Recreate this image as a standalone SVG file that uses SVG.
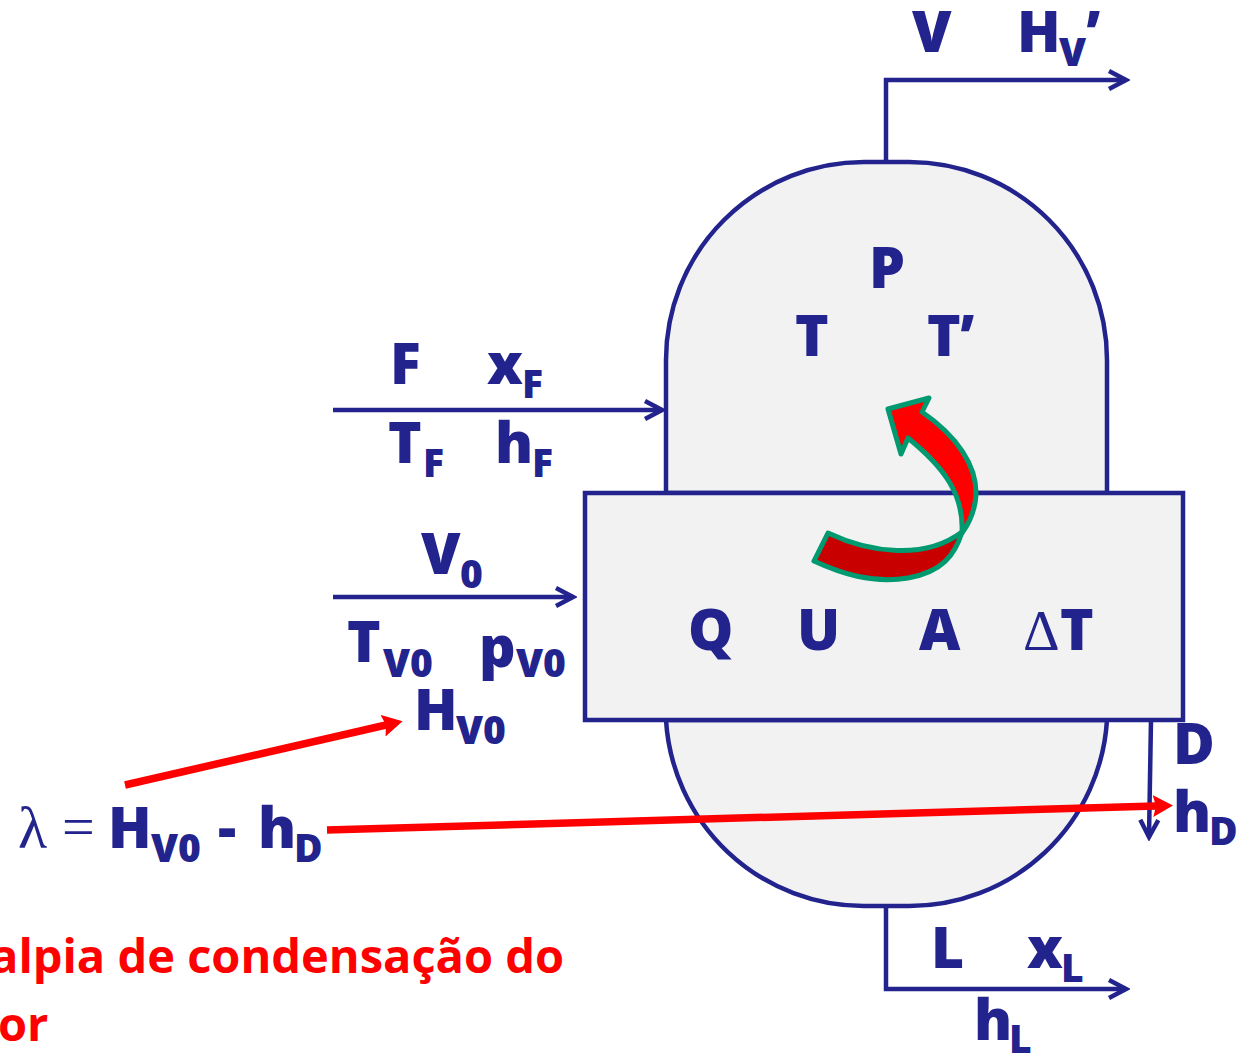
<svg xmlns="http://www.w3.org/2000/svg" width="1237" height="1054" viewBox="0 0 1237 1054">
<style>
.l{fill:none;stroke:#23238e;stroke-width:4.5}
.r{fill:none;stroke:#f00;stroke-width:7.5}
text{font-family:"Open Sans","Liberation Sans",sans-serif;font-weight:800;fill:#23238e}
.m{font-size:57px}
.s{font-size:39px}
.t{font-size:47px;fill:#f00;font-weight:700}
.g{font-family:"Liberation Serif",serif;font-weight:400}
.b{fill:#f2f2f2;stroke:#23238e;stroke-width:4.5}
.a{stroke:#009970;stroke-width:5;stroke-linejoin:round}
</style>
<defs>
<marker id="h" markerUnits="userSpaceOnUse" markerWidth="24" markerHeight="24" refX="20" refY="12" orient="auto"><path d="M3 3L20 12L3 21" fill="none" stroke="#23238e" stroke-width="4.5"/></marker>
<marker id="rh" markerUnits="userSpaceOnUse" markerWidth="24" markerHeight="24" refX="3" refY="11" orient="auto"><path d="M0 0L20 11L0 22L3 11Z" fill="#f00"/></marker>
</defs>
<rect width="1237" height="1054" fill="#fff"/>
<g id="vessel">
<path class="b" d="M666 493V360A198 198 0 0 1 864 162H909A198 198 0 0 1 1107 360V493Z"/>
<path class="b" d="M666 720A198 198 0 0 0 864 906H909A198 198 0 0 0 1107 720Z"/>
</g>
<g id="exchanger"><rect class="b" x="585" y="493" width="598" height="227"/></g>
<g id="connectors">
<path class="l" marker-end="url(#h)" d="M886 162V80H1126"/>
<path class="l" marker-end="url(#h)" d="M333 410H662"/>
<path class="l" marker-end="url(#h)" d="M333 597H573"/>
<path class="l" marker-end="url(#h)" d="M886 906V989H1126"/>
<path class="l" marker-end="url(#h)" d="M1151 720L1149 837"/>
<path class="r" marker-end="url(#rh)" d="M125 785L386 725"/>
<path class="r" marker-end="url(#rh)" d="M327 830L1156 806"/>
</g>
<g id="curved-arrow">
<path class="a" fill="#c80000" d="M828 533C870 553 925 560 962 532C955 555 942 572 908 578C872 584 840 573 814 561Z"/>
<path class="a" fill="#f00" d="M888 409L929 398L922 412C957 436 977 466 976 495C975 510 970 522 962 533C964 495 945 468 908 438L901 454Z"/>
</g>
<g id="labels">
<text class="m" x="912" y="52">V</text><text class="m" x="1017" y="52">H</text><text class="s" x="1059" y="66">V</text><text class="m" x="1086" y="52">’</text>
<text class="m" x="869" y="288">P</text><text class="m" x="795" y="356">T</text><text class="m" x="927" y="356">T</text><text class="m" x="960" y="356">’</text>
<text class="m" x="390" y="384">F</text><text class="m" x="487" y="384">x</text><text class="s" x="522" y="398">F</text>
<text class="m" x="388" y="463">T</text><text class="s" x="423" y="477">F</text><text class="m" x="495" y="463">h</text><text class="s" x="532" y="477">F</text>
<text class="m" x="421" y="574">V</text><text class="s" x="460" y="588">0</text>
<text class="m" x="347" y="662">T</text><text class="s" x="383" y="677">V0</text><text class="m" x="479" y="667">p</text><text class="s" x="516" y="677">V0</text>
<text class="m" x="414" y="730">H</text><text class="s" x="456" y="744">V0</text>
<text class="m" x="688" y="650">Q</text><text class="m" x="797" y="650">U</text><text class="m" x="919" y="650">A</text>
<text class="g" x="1023" y="650" style="font-size:57px">Δ</text><text class="m" x="1060" y="650">T</text>
<text class="m" x="1173" y="764">D</text><text class="m" x="1173" y="832">h</text><text class="s" x="1209" y="845">D</text>
<text class="g" x="18" y="848" style="font-size:60px">λ</text><text class="g" x="62" y="846" style="font-size:58px">=</text>
<text class="m" x="108" y="848">H</text><text class="s" x="151" y="862">V0</text><text class="m" x="218" y="848">-</text><text class="m" x="258" y="848">h</text><text class="s" x="294" y="862">D</text>
<text class="m" x="931" y="968">L</text><text class="m" x="1027" y="968">x</text><text class="s" x="1061" y="982">L</text>
<text class="m" x="974" y="1040">h</text><text class="s" x="1009" y="1053">L</text>
<text class="t" x="-10" y="973">alpia de condensação do</text>
<text class="t" x="-2" y="1041">or</text>
</g>
</svg>
